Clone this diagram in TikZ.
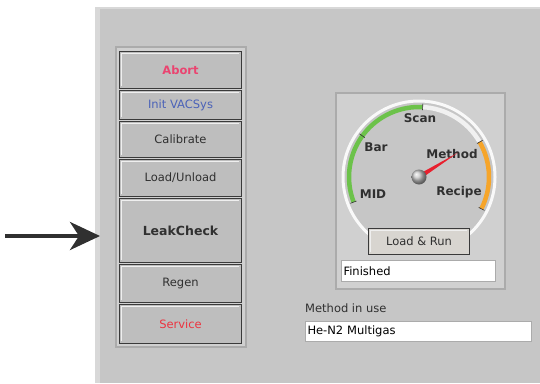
\documentclass[tikz,border=0pt]{standalone}
\usepackage{fontspec}
\setmainfont{DejaVu Sans}
\usetikzlibrary{positioning,arrows.meta}
\definecolor{panelgray}{HTML}{C6C6C6}
\definecolor{panellight}{HTML}{D8D8D8}
\definecolor{framegray}{HTML}{D0D0D0}
\definecolor{frameedge}{HTML}{ABABAB}
\definecolor{btngray}{HTML}{BEBEBE}
\definecolor{btnedge}{HTML}{3A3A3A}
\definecolor{runbeige}{HTML}{D8D5D0}
\definecolor{abortred}{HTML}{EA4470}
\definecolor{initblue}{HTML}{4B62B8}
\definecolor{servicered}{HTML}{EC3440}
\definecolor{dialgreen}{HTML}{6CC24A}
\definecolor{dialorange}{HTML}{F6A52A}
\definecolor{needlered}{HTML}{E8202E}
\definecolor{labelgray}{HTML}{303030}
\begin{document}
\begin{tikzpicture}[
  x=1pt, y=-1pt,
  btn/.style={rectangle, draw=btnedge, line width=1.3pt, fill=btngray,
    minimum width=121.7pt, inner sep=0pt, text=labelgray,
    font=\fontsize{11.5}{13}\selectfont,
    path picture={\draw[white!75!btngray, line width=1.2pt]
      ([xshift=2pt,yshift=2.5pt]path picture bounding box.south west)
      |- ([xshift=-2.5pt,yshift=-2pt]path picture bounding box.north east);}},
  field/.style={rectangle, fill=white, draw=frameedge, line width=1pt,
    inner sep=0pt, text=black, font=\fontsize{11.5}{13}\selectfont},
  dialtext/.style={font=\bfseries\fontsize{12}{14}\selectfont, text=labelgray},
  tick/.style={draw=labelgray, line width=0.6pt},
  pointer/.style={draw=labelgray, line width=4pt,
    -{Stealth[length=30pt, width=28pt, inset=9pt]}}
]
\useasboundingbox (0,0) rectangle (540,383);

% panel and frames
\fill[panelgray] (95,7) rectangle (540,383);
\fill[panellight] (95,7) rectangle (100,383);
\fill[panellight] (95,7) rectangle (540,9);
\draw[frameedge, fill=framegray, line width=1.5pt] (116,47) rectangle (246,347);
\draw[frameedge, fill=framegray, line width=1.5pt] (336,93) rectangle (505,289);

% buttons
\node[btn, minimum height=36.7pt, anchor=north west, font=\bfseries\fontsize{11.5}{13}\selectfont,
  text=abortred] (abort) at (119,51) {Abort};
\node[btn, minimum height=28.7pt, below=1pt of abort, text=initblue] (initvac) {Init VACSys};
\node[btn, minimum height=35.7pt, below=1pt of initvac] (calibrate) {Calibrate};
\node[btn, minimum height=36.7pt, below=1pt of calibrate] (loadunload) {Load/Unload};
\node[btn, minimum height=63.7pt, below=1pt of loadunload,
  font=\bfseries\fontsize{12.5}{14}\selectfont] (leakcheck) {LeakCheck};
\node[btn, minimum height=37.7pt, below=1pt of leakcheck] (regen) {Regen};
\node[btn, minimum height=38.7pt, below=1pt of regen, text=servicered] (service) {Service};

% arrow
\coordinate (tail) at (5,236);
\coordinate (tip) at (100,236);
\draw[pointer] (tail) -- (tip);

% dial
\begin{scope}[shift={(419,177)}, y=1pt]
  \node[circle, minimum size=152pt, fill=panelgray, draw=white!90!panelgray,
    line width=3pt] (dial) at (0,0) {};
  \draw[dialgreen, line width=4.5pt] (201:70) arc[start angle=201, end angle=87, radius=70];
  \draw[white!75!panelgray, line width=4.5pt] (87:70) arc[start angle=87, end angle=30, radius=70];
  \draw[dialorange, line width=4.5pt] (30:70) arc[start angle=30, end angle=-27, radius=70];
  \foreach \a in {201,144,87,30,-27}
    \draw[tick] (\a:67) -- (\a:73.5);
  \node[dialtext] (scan) at (1,59) {Scan};
  \node[dialtext] (bar) at (-43,30) {Bar};
  \node[dialtext] (mid) at (-46,-17) {MID};
  \node[dialtext] (method) at (33,23) {Method};
  \node[dialtext] (recipe) at (40,-15) {Recipe};
  \fill[needlered] (32:46) -- (122:2.5) -- (302:2.5) -- cycle;
  \node[circle, minimum size=15pt, inner sep=0pt, ball color=gray!45!white] (knob) at (0,0) {};
\end{scope}

% run button and fields
\node[btn, minimum width=101pt, minimum height=26pt, fill=runbeige] (loadrun) at (419,241.5) {Load \& Run};
\node[field, minimum width=154pt, minimum height=21pt, anchor=north west,
  text width=150pt, align=left] (status) at (341,260) {Finished};
\node[anchor=west, font=\fontsize{11.5}{13}\selectfont, text=labelgray,
  inner sep=0pt] (methodlabel) at (305,308) {Method in use};
\node[field, minimum width=226pt, minimum height=20pt, anchor=north west,
  text width=222pt, align=left] (methodbox) at (305,321) {He-N2 Multigas};
\end{tikzpicture}
\end{document}
